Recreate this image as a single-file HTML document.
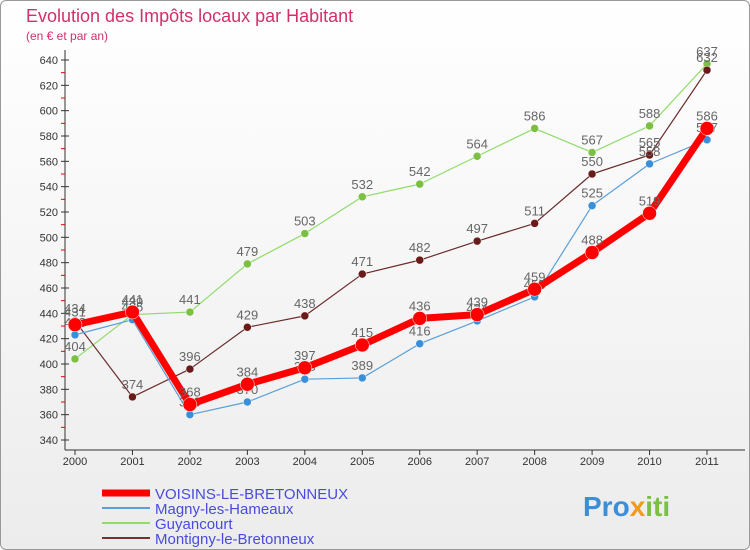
<!DOCTYPE html>
<html><head><meta charset="utf-8"><style>
body{margin:0;width:750px;height:550px;overflow:hidden;font-family:"Liberation Sans",sans-serif;background:#fff}
#wrap{position:absolute;left:0;top:0;width:748px;height:548px;border:1px solid #999;border-radius:6px;background:linear-gradient(#ffffff,#ececec)}
</style></head><body>
<div id="wrap"></div>
<svg id="chart" width="750" height="550" style="position:absolute;left:0;top:0">
<text x="26" y="22" font-size="18" fill="#d0306b">Evolution des Impôts locaux par Habitant</text>
<text x="26" y="40" font-size="12" fill="#d0306b">(en € et par an)</text>
<g id="axes"></g><g id="series"></g><g id="legend"></g>
<text x="583" y="516" font-size="28" font-weight="bold" fill="#3a8fd8">Pro<tspan fill="#f29a1c">x</tspan><tspan fill="#7bc043">iti</tspan></text>
</svg>
<script>
const years=[2000,2001,2002,2003,2004,2005,2006,2007,2008,2009,2010,2011];
const voisins=[431,441,368,384,397,415,436,439,459,488,519,586];
const magny=[423,435,360,370,388,389,416,434,453,525,558,577];
const guyancourt=[404,439,441,479,503,532,542,564,586,567,588,637];
const montigny=[434,374,396,429,438,471,482,497,511,550,565,632];
const yTicks=[340,360,380,400,420,440,460,480,500,520,540,560,580,600,620,640];
const names=["VOISINS-LE-BRETONNEUX","Magny-les-Hameaux","Guyancourt","Montigny-le-Bretonneux"];
const NS="http://www.w3.org/2000/svg";
const X=i=>75+i*(707-75)/11;
const Y=v=>60+(640-v)*(440-60)/300;
function mk(p,t,a){const e=document.createElementNS(NS,t);for(const k in a)e.setAttribute(k,a[k]);p.appendChild(e);return e;}
const ax=document.getElementById('axes');
mk(ax,'line',{x1:65,y1:50,x2:65,y2:450,stroke:'#333'});
mk(ax,'line',{x1:65,y1:450,x2:745,y2:450,stroke:'#333'});
yTicks.forEach(v=>{
 const t=mk(ax,'text',{x:58,y:Y(v)+4,'font-size':11,fill:'#333','text-anchor':'end'});t.textContent=v;
 
 
 mk(ax,'line',{x1:61,y1:Y(v),x2:69,y2:Y(v),stroke:'#333'});
 if(v<640)mk(ax,'line',{x1:61,y1:Y(v+10),x2:65,y2:Y(v+10),stroke:'#e00'});
});
years.forEach((yr,i)=>{
 mk(ax,'line',{x1:X(i),y1:450,x2:X(i),y2:455,stroke:'#333'});
 const t=mk(ax,'text',{x:X(i),y:465,'font-size':11,fill:'#333','text-anchor':'middle'});t.textContent=yr;
 
 
});
const sg=document.getElementById('series');
function draw(data,color,w,r,name,lc){
 const g=mk(sg,'g',{});
 
 
 mk(g,'polyline',{points:data.map((v,i)=>X(i)+','+Y(v)).join(' '),fill:'none',stroke:color,'stroke-width':w,'stroke-linejoin':'round'});
 data.forEach((v,i)=>{
  const c=mk(g,'circle',{cx:X(i),cy:Y(v),r:r,fill:lc,stroke:'#fff','stroke-width':0.5});
  
  
  const t=mk(g,'text',{x:X(i),y:Y(v)-8,'font-size':13,fill:'#666','text-anchor':'middle'});t.textContent=v;
 });
}
draw(guyancourt,'#8fdc6a',1.2,4,'series-guyancourt','#7bc043');
draw(montigny,'#6b2b2b',1.2,4,'series-montigny','#6b1a1a');
draw(magny,'#5a9fd8',1.2,4,'series-magny','#3a8fd8');
draw(voisins,'#f00',7,7,'series-voisins','#f00');
const lg=document.getElementById('legend');
const cols=['#f00','#5a9fd8','#8fdc6a','#7a3030'],ws=[7,2,2,2];
names.forEach((n,i)=>{
 const yy=493+i*15;
 const l=mk(lg,'line',{x1:102,y1:yy,x2:150,y2:yy,stroke:cols[i],'stroke-width':ws[i]});
 
 
 const t=mk(lg,'text',{x:155,y:yy+6,'font-size':15,fill:'#4a4ae0'});t.textContent=n;
 
 
});
</script>
</body></html>
